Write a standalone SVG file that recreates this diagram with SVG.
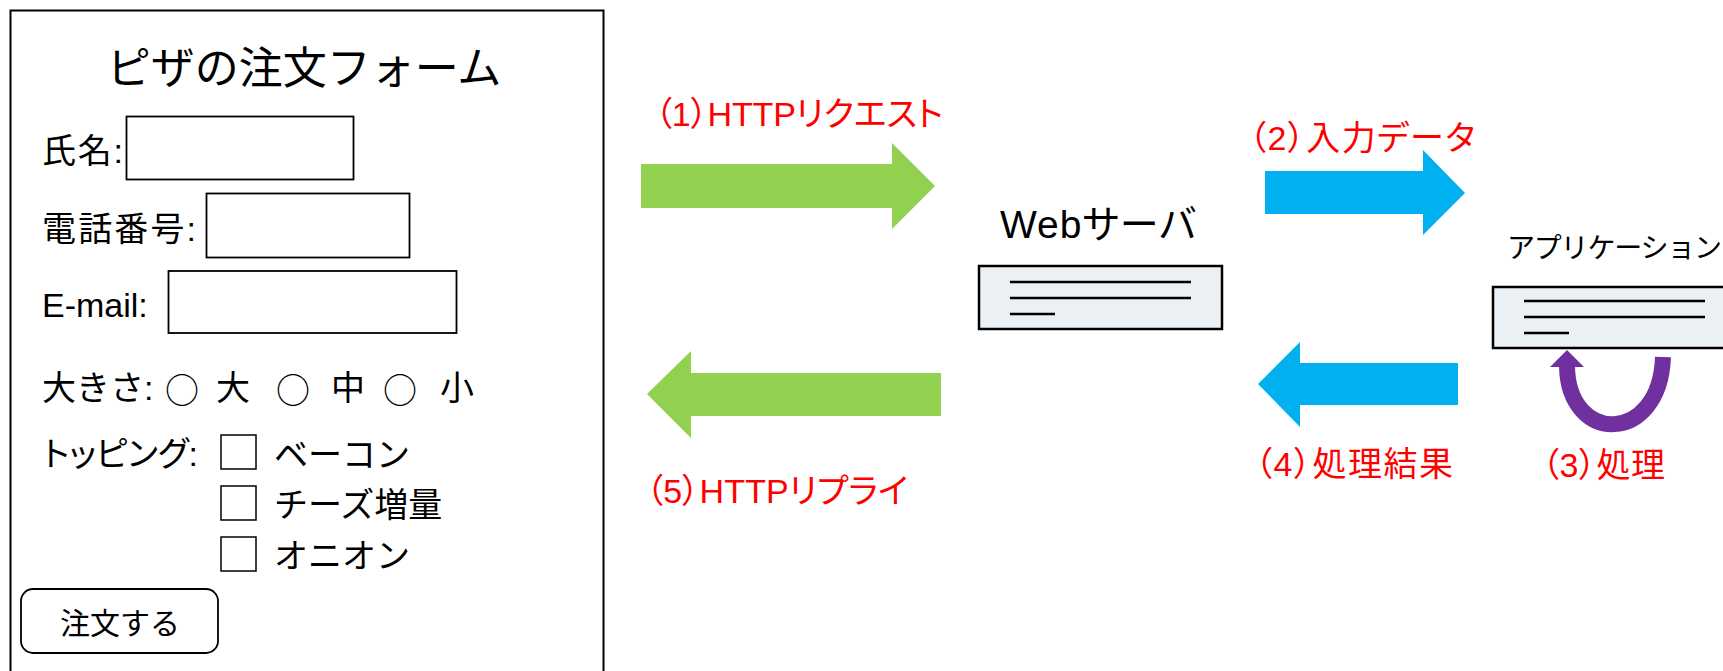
<svg xmlns="http://www.w3.org/2000/svg" width="1723" height="671" viewBox="0 0 1723 671">
<style>
  text { font-family: "Liberation Sans", "Noto Sans CJK JP", sans-serif; fill: #000; dominant-baseline: central; }
  .title { font-size: 44px; }
  .lbl { font-size: 34px; }
  .radio { font-family: "Noto Sans CJK JP", sans-serif; }
  .btn-t { font-size: 30px; }
  .prop { font-feature-settings: "palt"; }
  .field { fill: #fff; stroke: #000; stroke-width: 1.8; }
  .chk { fill: #fff; stroke: #000; stroke-width: 1.5; }
  .srv { fill: #EBF0F5; stroke: #000; stroke-width: 2.5; }
  .ln { stroke: #000; stroke-width: 2.5; }
  .step { fill: #FF0000; font-size: 34px; font-feature-settings: "palt"; }
  .green { fill: #92D050; }
  .blue { fill: #00B0F0; }
  .name { font-size: 39px; font-feature-settings: "palt"; }
  .app { font-size: 28px; }
</style>
<rect width="1723" height="671" fill="#fff"/>

<!-- order form -->
<g id="order-form">
  <rect x="10.5" y="10.5" width="593" height="700" fill="#fff" stroke="#000" stroke-width="2"/>
  <text class="title" x="304" y="68" text-anchor="middle">ピザの注文フォーム</text>

  <text class="lbl" x="42" y="151" textLength="81">氏名:</text>
  <rect class="field" x="126.5" y="116.5" width="227" height="63"/>

  <text class="lbl" x="42" y="229" textLength="154">電話番号:</text>
  <rect class="field" x="206.5" y="193.5" width="203" height="64"/>

  <text class="lbl" x="42" y="305">E-mail:</text>
  <rect class="field" x="168.5" y="271" width="288" height="62"/>

  <text class="lbl" x="42" y="388">大きさ:</text>
  <text class="lbl radio" x="182" y="388" text-anchor="middle">○</text>
  <text class="lbl" x="233" y="388" text-anchor="middle">大</text>
  <text class="lbl radio" x="293" y="388" text-anchor="middle">○</text>
  <text class="lbl" x="348" y="388" text-anchor="middle">中</text>
  <text class="lbl radio" x="400" y="388" text-anchor="middle">○</text>
  <text class="lbl" x="457" y="388" text-anchor="middle">小</text>

  <text class="lbl prop" x="43" y="454" textLength="155">トッピング:</text>
  <rect class="chk" x="221" y="435" width="35" height="34"/>
  <text class="lbl" x="274" y="455">ベーコン</text>
  <rect class="chk" x="221" y="486" width="35" height="34"/>
  <text class="lbl" x="274" y="505">チーズ増量</text>
  <rect class="chk" x="221" y="537" width="35" height="34"/>
  <text class="lbl" x="274" y="556">オニオン</text>

  <rect x="21" y="589" width="197" height="64" rx="12" fill="#fff" stroke="#000" stroke-width="1.8"/>
  <text class="btn-t" x="120" y="623" text-anchor="middle">注文する</text>
</g>

<!-- web server -->
<g id="web-server">
  <text class="name" x="1098" y="224" text-anchor="middle" textLength="196">Webサーバ</text>
  <rect class="srv" x="979" y="266" width="243" height="63"/>
  <line class="ln" x1="1010" y1="282" x2="1191" y2="282"/>
  <line class="ln" x1="1010" y1="298" x2="1191" y2="298"/>
  <line class="ln" x1="1010" y1="314" x2="1055" y2="314"/>
</g>

<!-- application -->
<g id="application">
  <text class="app" x="1507" y="248" textLength="215">アプリケーション</text>
  <rect class="srv" x="1493" y="287" width="240" height="61"/>
  <line class="ln" x1="1524" y1="301" x2="1705" y2="301"/>
  <line class="ln" x1="1524" y1="317" x2="1705" y2="317"/>
  <line class="ln" x1="1524" y1="333" x2="1569" y2="333"/>
</g>

<!-- flow arrows and step labels -->
<g id="connectors">
  <polygon class="green" points="641,164 892,164 892,143 935,186 892,229 892,208 641,208"/>
  <text class="step" x="655" y="114" textLength="288">（1）HTTPリクエスト</text>

  <polygon class="blue" points="1265,171 1423,171 1423,150 1465,193 1423,235 1423,214 1265,214"/>
  <text class="step" x="1249" y="138" textLength="226">（2）入力データ</text>

  <path d="M1663,357 C1660,445 1568,445 1567,366" fill="none" stroke="#7030A0" stroke-width="16"/>
  <polygon points="1550,367 1584,367 1567,350" fill="#7030A0"/>
  <text class="step" x="1542" y="465" textLength="123">（3）処理</text>

  <polygon class="blue" points="1458,363 1300,363 1300,342 1258,384 1300,427 1300,405 1458,405"/>
  <text class="step" x="1255" y="464" textLength="198">（4）処理結果</text>

  <polygon class="green" points="941,373 691,373 691,351 647,394 691,438 691,416 941,416"/>
  <text class="step" x="646" y="491" textLength="262">（5）HTTPリプライ</text>
</g>
</svg>
